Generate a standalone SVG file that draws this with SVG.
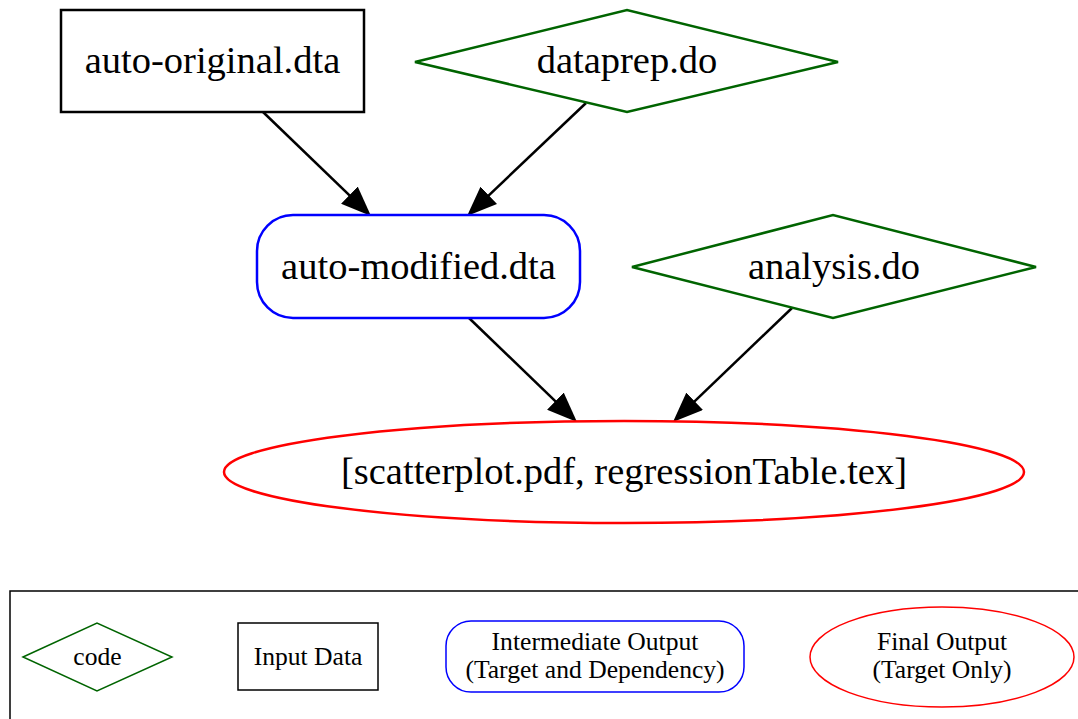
<svg xmlns="http://www.w3.org/2000/svg" width="1078" height="719" viewBox="0 0 1078 719">
<style>
text{font-family:"Liberation Serif","Times New Roman",serif;text-anchor:middle;fill:#000}
.big{font-size:38.5px}
.small{font-size:25.6px}
.code{fill:none;stroke:#006400;stroke-width:2.5}
.data{fill:none;stroke:#000;stroke-width:2.5}
.inter{fill:none;stroke:#0000ff;stroke-width:2.5}
.final{fill:none;stroke:#ff0000;stroke-width:2.5}
.edge{stroke:#000;stroke-width:2.5;fill:none}
</style>
<defs>
<marker id="ah" viewBox="0 0 30 24" refX="20" refY="12" markerWidth="30" markerHeight="24" markerUnits="userSpaceOnUse" orient="auto">
<path d="M0,0 L30,12 L0,24 z" fill="#000"/>
</marker>
</defs>
<rect width="1078" height="719" fill="#fff"/>
<g id="connectors">
<line class="edge" x1="263" y1="112" x2="363.8" y2="209.1" marker-end="url(#ah)"/>
<line class="edge" x1="586" y1="103" x2="474.3" y2="209.1" marker-end="url(#ah)"/>
<line class="edge" x1="469" y1="318" x2="569.8" y2="415.1" marker-end="url(#ah)"/>
<line class="edge" x1="792" y1="308" x2="680.2" y2="415.1" marker-end="url(#ah)"/>
</g>
<g id="auto-original">
<rect class="data" x="61" y="10" width="303" height="102"/>
<text class="big" x="212.5" y="73">auto-original.dta</text>
</g>
<g id="dataprep">
<polygon class="code" points="415,62 627,10 838,62 627,112"/>
<text class="big" x="627" y="73">dataprep.do</text>
</g>
<g id="auto-modified">
<rect class="inter" x="257" y="215" width="323" height="103" rx="36" ry="36"/>
<text class="big" x="418.5" y="279">auto-modified.dta</text>
</g>
<g id="analysis">
<polygon class="code" points="632,267 833,215 1036,267 833,318"/>
<text class="big" x="834" y="279">analysis.do</text>
</g>
<g id="final">
<ellipse class="final" cx="624" cy="472" rx="400" ry="51"/>
<text class="big" x="624" y="484">[scatterplot.pdf, regressionTable.tex]</text>
</g>
<g id="legend">
<rect x="10" y="591" width="1080" height="140" fill="none" stroke="#000" stroke-width="1.5"/>
<polygon class="code" points="23,657 97,623 172,657 97,691" style="stroke-width:1.5"/>
<text class="small" x="97.5" y="665">code</text>
<rect class="data" x="238" y="623" width="140" height="67" style="stroke-width:1.5"/>
<text class="small" x="308" y="665">Input Data</text>
<rect class="inter" x="446" y="621" width="298" height="71" rx="25" ry="25" style="stroke-width:1.5"/>
<text class="small" x="595" y="650">Intermediate Output</text>
<text class="small" x="595" y="678">(Target and Dependency)</text>
<ellipse class="final" cx="942" cy="657" rx="132" ry="50" style="stroke-width:1.5"/>
<text class="small" x="942" y="650">Final Output</text>
<text class="small" x="942" y="678">(Target Only)</text>
</g>
</svg>
